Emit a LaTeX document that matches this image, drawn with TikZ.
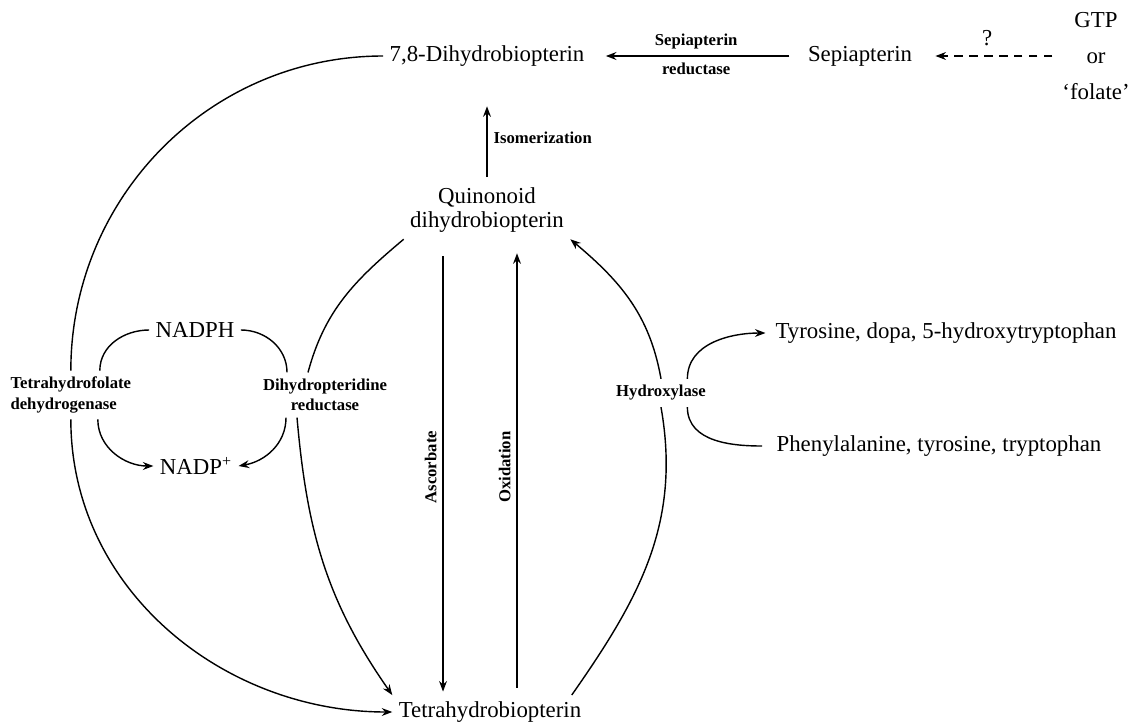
\documentclass[tikz,border=0pt]{standalone}
\usepackage{fontspec}
\setmainfont{Liberation Serif}
\usetikzlibrary{arrows.meta}

\begin{document}
\begin{tikzpicture}[x=0.02cm, y=-0.02cm, line width=0.8pt,
    >={Stealth[length=6pt,width=4.5pt,inset=2pt]},
    compound/.style={font=\fontsize{13}{14}\selectfont, align=center},
    enzyme/.style={font=\fontsize{9.5}{11.5}\selectfont\bfseries, align=center}]

    \useasboundingbox (0,0) rectangle (1135,723);

    % Compounds
    \node[compound] (dhb) at (487,56) {7,8-Dihydrobiopterin};
    \node[compound] (sep) at (860,56) {Sepiapterin};
    \node[compound, font=\fontsize{13}{20.5}\selectfont] (gtp) at (1096,56) {GTP\\or\\`folate'};
    \node[compound] (qdhb) at (487,210) {Quinonoid\\dihydrobiopterin};
    \node[compound] (thb) at (490,712) {Tetrahydrobiopterin};
    \node[compound] (nadph) at (195,330) {NADPH};
    \node[compound] (nadp) at (196,466) {NADP\textsuperscript{+}};
    \node[compound, anchor=west] (tyr) at (769,333) {Tyrosine, dopa, 5-hydroxytryptophan};
    \node[compound, anchor=west] (phe) at (770,446) {Phenylalanine, tyrosine, tryptophan};

    % Enzymes
    \node[enzyme, anchor=west, align=left] (thfd) at (4,395) {Tetrahydrofolate\\dehydrogenase};
    \node[enzyme] (dpr) at (325,395) {Dihydropteridine\\reductase};
    \node[enzyme] (hyd) at (661,393) {Hydroxylase};

    % Top row
    \draw[->, shorten <=6.8pt, shorten >=8.5pt] (sep) -- node[above, enzyme] {Sepiapterin}
        node[below, enzyme] {reductase} (dhb);
    \draw[->, dashed, dash pattern=on 5pt off 3.5pt, shorten <=2pt, shorten >=9.6pt]
        (gtp.west) -- node[above, compound, yshift=2pt] {?} (sep.east);
    \draw[->, shorten <=2pt, shorten >=19pt] (qdhb.north) -- node[right, enzyme, pos=0.4] {Isomerization} (dhb.south);

    % Ascorbate / oxidation
    \draw[->, shorten <=9.6pt, shorten >=2pt] ([xshift=-0.88cm]qdhb.south)
        -- node[midway, enzyme, rotate=90, anchor=south] {Ascorbate} ([xshift=-0.88cm]qdhb.south |- thb.north);
    \draw[<-, shorten <=8pt, shorten >=4pt] ([xshift=0.6cm]qdhb.south)
        -- node[midway, enzyme, rotate=90, anchor=south] {Oxidation} ([xshift=0.6cm]qdhb.south |- thb.north);

    % Outer arc
    \draw (dhb.west) to[out=180, in=90] (thfd.north);
    \draw[->] (thfd.south) to[out=-90, in=180] (thb.west);

    % Inner arc
    \draw (qdhb.south west) to[out=220, in=75] ([xshift=-0.34cm]dpr.north);
    \draw[->] ([xshift=-0.56cm]dpr.south) to[out=-85, in=125] (thb.north west);

    % NADPH cycle
    \draw (nadph.west) to[out=180, in=90] ([xshift=0.58cm]thfd.north);
    \draw[->] ([xshift=0.54cm]thfd.south) to[out=-90, in=180] (nadp.west);
    \draw (nadph.east) to[out=0, in=90] ([xshift=-0.76cm]dpr.north);
    \draw[->] ([xshift=-0.78cm]dpr.south) to[out=-90, in=10] (nadp.east);

    % Hydroxylase
    \draw ([xshift=-0.32cm]thb.north east) to[out=55, in=-80] (hyd.south);
    \draw[->] (hyd.north) to[out=100, in=-40] (qdhb.south east);
    \draw[->, shorten >=2pt] ([xshift=-0.5cm]hyd.north east) to[out=90, in=180] (tyr.west);
    \draw[shorten >=4.5pt] ([xshift=-0.5cm]hyd.south east) to[out=-90, in=180] (phe.west);

\end{tikzpicture}
\end{document}
